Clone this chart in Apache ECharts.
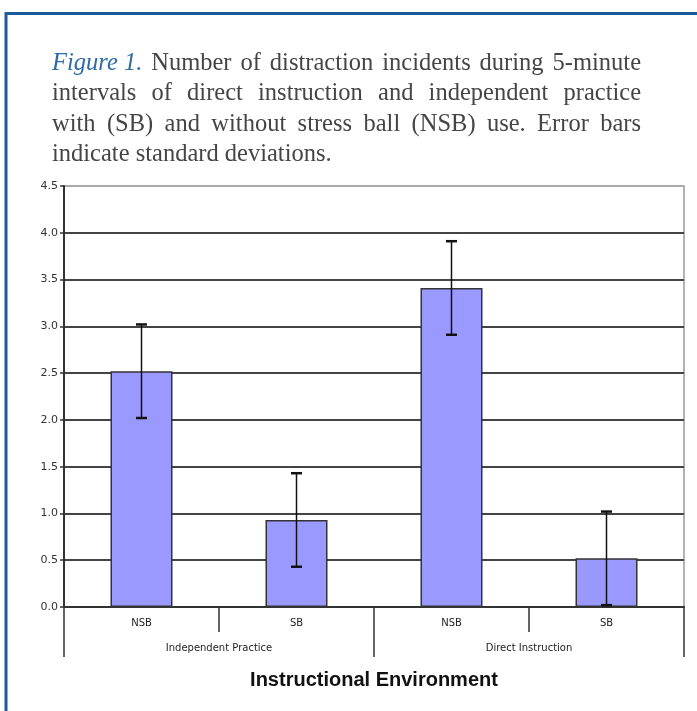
<!DOCTYPE html>
<html><head><meta charset="utf-8">
<script src="https://cdn.jsdelivr.net/npm/echarts@6/dist/echarts.min.js"></script>
<style>html,body{margin:0;padding:0;background:#fff}#c{width:697px;height:711px}</style>
</head><body><div id="c"></div>
<script>
const categories = ['NSB', 'SB', 'NSB', 'SB'];
const groups = ['Independent Practice', 'Direct Instruction'];
const means = [2.52, 0.93, 3.41, 0.52];
const stdDevs = [0.5, 0.5, 0.5, 0.5];
const yTicks = ['0.0','0.5','1.0','1.5','2.0','2.5','3.0','3.5','4.0','4.5'];
const captionLines = [
  'Number of distraction incidents during 5-minute',
  'intervals of direct instruction and independent practice',
  'with (SB) and without stress ball (NSB) use. Error bars',
  'indicate standard deviations.'
];
const captionLead = 'Figure 1.';
const axisTitle = 'Instructional Environment';

const chart = echarts.init(document.getElementById('c'), null, {renderer: 'canvas'});

// caption layout (justified)
const FONT_SIZE = 24.5, FAM = '"Liberation Serif", serif';
const ctx = document.createElement('canvas').getContext('2d');
function w(t, italic){ ctx.font = (italic?'italic ':'') + FONT_SIZE + 'px ' + FAM; return ctx.measureText(t).width; }
const X0 = 52, X1 = 641, LINE_Y = [63.5, 94, 124.5, 155];
const TXT = '#454545', BLUE = '#2d6aa6';
const graphics = [];
graphics.push({type:'rect', shape:{x:6, y:13.5, width:760, height:760}, style:{fill:'none', stroke:'#1d5a98', lineWidth:3}, silent:true});
captionLines.forEach((line, i) => {
  const words = [];
  if (i === 0) words.push({t: captionLead, it: true});
  line.split(' ').forEach(s => words.push({t: s, it: false}));
  const total = words.reduce((a, o) => a + w(o.t, o.it), 0);
  const justify = i < captionLines.length - 1;
  const gap = justify ? (X1 - X0 - total) / (words.length - 1) : w(' ', false);
  let x = X0;
  words.forEach(o => {
    graphics.push({type:'text', x: x, y: LINE_Y[i], style:{text:o.t, fill: o.it?BLUE:TXT, font:(o.it?'italic ':'') + FONT_SIZE + 'px ' + FAM, textVerticalAlign:'middle'}, silent:true});
    x += w(o.t, o.it) + gap;
  });
});

const splitColors = yTicks.map((t, i) => i === yTicks.length - 1 ? '#aaaaaa' : '#444444');

chart.setOption({
  animation: false,
  backgroundColor: '#fff',
  graphic: graphics,
  grid: {left: 64, right: 13, top: 186, bottom: 104, show: true, borderColor: '#999', borderWidth: 1.5, backgroundColor: 'transparent'},
  xAxis: [
    {type: 'category', data: categories, position: 'bottom',
     axisLine: {show: true, lineStyle: {color: '#333', width: 2}},
     axisTick: {show: true, interval: 0, length: 25, lineStyle: {color: '#333', width: 1.5}},
     axisLabel: {interval: 0, margin: 11, fontSize: 10, color: '#222', fontFamily: '"DejaVu Sans", sans-serif'}},
    {type: 'category', data: groups, position: 'bottom',
     axisLine: {show: false},
     axisTick: {show: true, interval: 0, length: 50, lineStyle: {color: '#333', width: 1.5}},
     axisLabel: {interval: 0, margin: 36, fontSize: 10, color: '#222', fontFamily: '"DejaVu Sans", sans-serif'},
     name: axisTitle, nameLocation: 'middle', nameGap: 63,
     nameTextStyle: {fontSize: 20, fontWeight: 'bold', color: '#111', fontFamily: '"Liberation Sans", Arial, sans-serif'}}
  ],
  yAxis: {type: 'value', min: 0, max: 4.5, interval: 0.5,
    axisLine: {show: true, lineStyle: {color: '#333', width: 2}},
    axisTick: {show: true, length: 4, lineStyle: {color: '#333', width: 1.5}},
    axisLabel: {margin: 6, fontSize: 11, color: '#333', fontFamily: '"DejaVu Sans", sans-serif', formatter: v => yTicks[Math.round(v / 0.5)]},
    splitLine: {show: true, lineStyle: {color: splitColors, width: 2}}},
  series: [
    {type: 'bar', data: means, barWidth: '40%', xAxisIndex: 0,
     itemStyle: {color: '#9999ff', borderColor: '#333', borderWidth: 1.5}},
    {type: 'custom', xAxisIndex: 0, z: 5,
     data: means.map((m, i) => [i, m - stdDevs[i], m + stdDevs[i]]),
     renderItem: (params, api) => {
       const lo = api.coord([api.value(0), api.value(1)]);
       const hi = api.coord([api.value(0), api.value(2)]);
       const hw = 5.5;
       const st = {stroke: '#111', lineWidth: 1.5};
       return {type: 'group', children: [
         {type: 'line', shape: {x1: lo[0], y1: lo[1], x2: hi[0], y2: hi[1]}, style: st},
         {type: 'line', shape: {x1: lo[0]-hw, y1: lo[1], x2: lo[0]+hw, y2: lo[1]}, style: {stroke:'#111', lineWidth: 2.5}},
         {type: 'line', shape: {x1: hi[0]-hw, y1: hi[1], x2: hi[0]+hw, y2: hi[1]}, style: {stroke:'#111', lineWidth: 2.5}}
       ]};
     }}
  ]
});
</script></body></html>
